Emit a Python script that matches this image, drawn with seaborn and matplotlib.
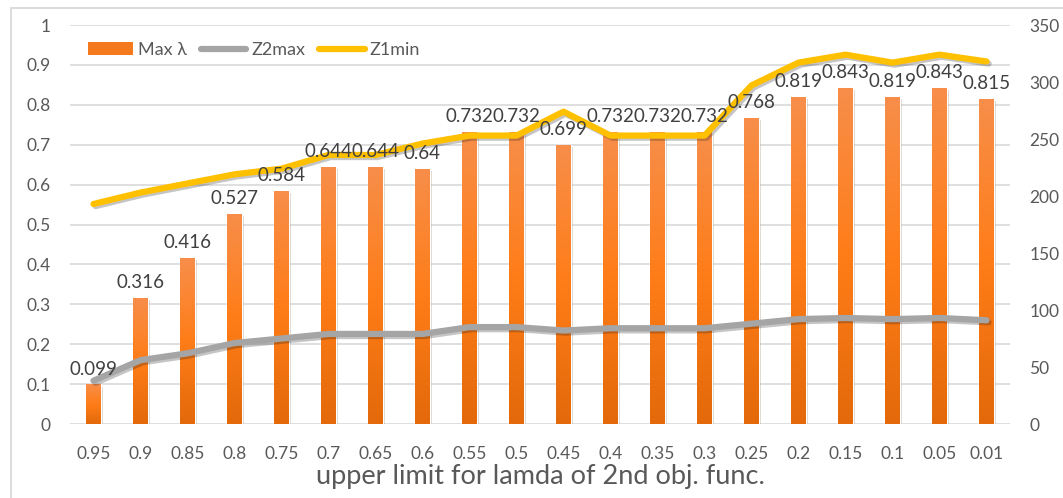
import numpy as np
import pandas as pd
import matplotlib
matplotlib.use('Agg')
import matplotlib.pyplot as plt
import matplotlib.patheffects as pe
from matplotlib.colors import LinearSegmentedColormap
from matplotlib.patches import Patch, Rectangle
from matplotlib.lines import Line2D
import seaborn as sns

# categories (upper limit for lambda of the 2nd objective function)
limits = ['0.95', '0.9', '0.85', '0.8', '0.75', '0.7', '0.65', '0.6', '0.55', '0.5',
          '0.45', '0.4', '0.35', '0.3', '0.25', '0.2', '0.15', '0.1', '0.05', '0.01']
# left axis: bars
max_lambda = [0.099, 0.316, 0.416, 0.527, 0.584, 0.644, 0.644, 0.64, 0.732, 0.732,
              0.699, 0.732, 0.732, 0.732, 0.768, 0.819, 0.843, 0.819, 0.843, 0.815]
# right axis: lines
z2_max = [38, 56, 62, 71, 75, 79, 79, 79, 85, 85,
          82, 84, 84, 84, 88, 92, 93, 92, 93, 91]
z1_min = [193, 203, 211, 219, 224, 236, 236, 246, 253, 253,
          274, 253, 253, 253, 297, 317, 324, 317, 324, 318]

left_ticks = [0, 0.1, 0.2, 0.3, 0.4, 0.5, 0.6, 0.7, 0.8, 0.9, 1]
right_ticks = [0, 50, 100, 150, 200, 250, 300, 350]

ORANGE = '#F57A1E'
GRAY = '#A5A5A5'
YELLOW = '#FFC000'
TICK = '#595959'

sns.set_theme(style='white')
plt.rcParams['font.family'] = ['Lato', 'DejaVu Sans']

fig = plt.figure(figsize=(10.63, 4.98), dpi=100)
ax = fig.add_axes([70 / 1063, 1 - 424 / 498, 940 / 1063, 399 / 498])

df = pd.DataFrame({'limit': limits, 'max_lambda': max_lambda})
sns.barplot(data=df, x='limit', y='max_lambda', order=limits, color=ORANGE,
            saturation=1, width=0.3, ax=ax, zorder=2)

# vertical gradient fill on each bar, like the office chart style
grad_cmap = LinearSegmentedColormap.from_list('bar', ['#E3690A', '#FF7D18', '#F78E4A'])
grad = np.linspace(0, 1, 256).reshape(-1, 1)
for bar in ax.patches:
    bar.set_path_effects([pe.SimplePatchShadow(offset=(1.5, -1.5), alpha=0.2), pe.Normal()])
    x0, y0 = bar.get_x(), bar.get_y()
    w, h = bar.get_width(), bar.get_height()
    im = ax.imshow(grad, extent=[x0, x0 + w, y0, y0 + h], origin='lower',
                   cmap=grad_cmap, aspect='auto', zorder=2.5)
    im.set_clip_path(bar)

ax.set_xlim(-0.5, len(limits) - 0.5)
ax.set_ylim(0, 1)
ax.set_yticks(left_ticks)
ax.set_yticklabels([f'{t:g}' for t in left_ticks])
ax.yaxis.grid(True, color='#D9D9D9', lw=1.2)
ax.set_axisbelow(True)
for s in ax.spines.values():
    s.set_visible(False)
ax.tick_params(axis='both', length=0, labelsize=12.5, labelcolor=TICK)
ax.tick_params(axis='x', pad=16)
ax.tick_params(axis='y', pad=14)
ax.set_ylabel('')
ax.set_xlabel('upper limit for lamda of 2nd obj. func.', fontsize=19.5, color=TICK, labelpad=1)

ax2 = ax.twinx()
pos = np.arange(len(limits))
shadow = [pe.SimpleLineShadow(offset=(1.5, -1.5), alpha=0.25), pe.Normal()]
sns.lineplot(x=pos, y=z2_max, ax=ax2, color=GRAY, lw=4.5, solid_capstyle='round',
             path_effects=shadow, zorder=3)
sns.lineplot(x=pos, y=z1_min, ax=ax2, color=YELLOW, lw=4.5, solid_capstyle='round',
             path_effects=shadow, zorder=3)
ax2.set_ylim(0, 350)
ax2.set_yticks(right_ticks)
ax2.set_yticklabels([str(t) for t in right_ticks])
ax2.grid(False)
for s in ax2.spines.values():
    s.set_visible(False)
ax2.tick_params(axis='y', length=0, labelsize=12.5, labelcolor=TICK, pad=14)
ax2.set_ylabel('')

# data labels above the bars (drawn on top of the lines)
for i, v in enumerate(max_lambda):
    ax2.annotate(f'{v:g}', xy=(i, v), xycoords=ax.transData, xytext=(0, 5),
                 textcoords='offset points', ha='center', va='bottom',
                 fontsize=13.5, color='#404040', zorder=5)

handles = [Patch(facecolor=ORANGE, edgecolor='none'),
           Line2D([], [], color=GRAY, lw=4.5, solid_capstyle='round'),
           Line2D([], [], color=YELLOW, lw=4.5, solid_capstyle='round')]
ax2.legend(handles, ['Max λ', 'Z2max', 'Z1min'], loc='center left',
           bbox_to_anchor=(72 / 1063, 1 - 50 / 498), bbox_transform=fig.transFigure,
           ncol=3, frameon=False, fontsize=13, handlelength=2.5, handletextpad=0.25,
           columnspacing=0.8, labelcolor=TICK)

# light chart-area border
fig.add_artist(Rectangle((11 / 1063, -0.1), 1.2, 1.1 - 8 / 498, transform=fig.transFigure,
                         fill=False, edgecolor='#D9D9D9', lw=1.3))

fig.savefig('out.png', dpi=100)
